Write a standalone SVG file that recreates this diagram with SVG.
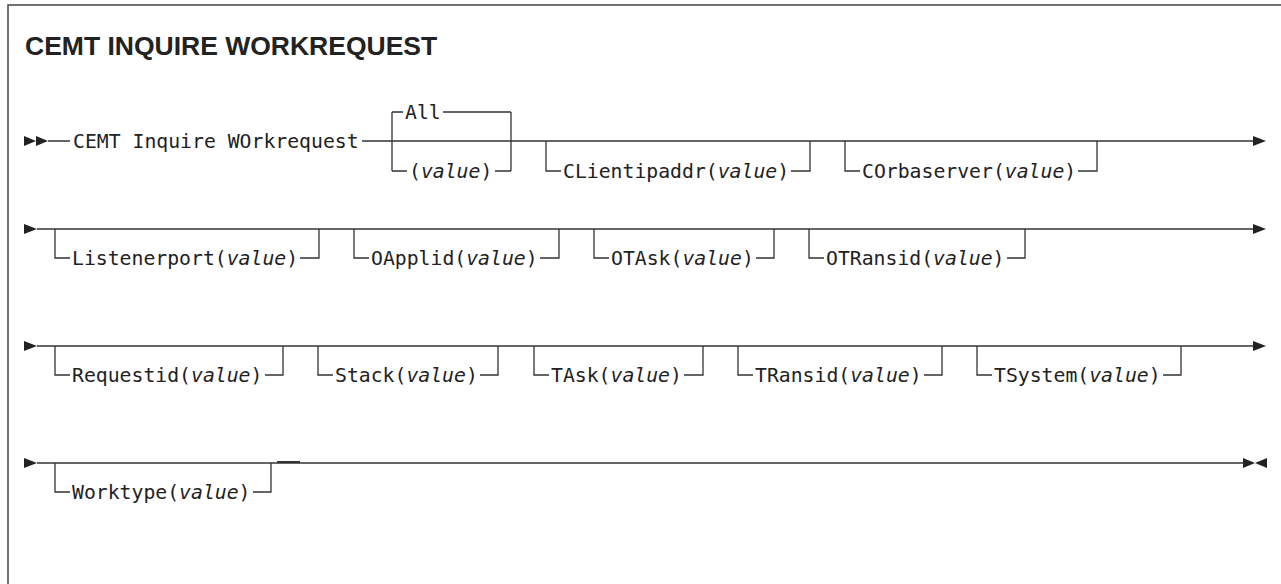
<svg xmlns="http://www.w3.org/2000/svg" width="1281" height="584" viewBox="0 0 1281 584">
<style>
.ln{stroke:#333;stroke-width:1.3;fill:none}
.fr{stroke:#444;stroke-width:1.5;fill:none}
.t{font-family:"DejaVu Sans Mono","Liberation Mono",monospace;font-size:19.77px;fill:#222}
.v{font-style:italic}
.ttl{font-family:"Liberation Sans",Arial,sans-serif;font-weight:bold;font-size:26.5px;fill:#222}
.ah{fill:#222}
</style>
<rect width="1281" height="584" fill="#fff"/>
<g id="frame"><path class="fr" d="M8,600 V5 H1290"/></g>
<text class="ttl" x="25" y="55">CEMT INQUIRE WORKREQUEST</text>
<g id="connectors">
  <path class="ah" d="M24,136 L36,141 L24,146 Z M36,136 L48,141 L36,146 Z"/>
  <path class="ln" d="M48,141 H70 M362,141 H1254"/>
  <path class="ah" d="M1253,136 L1266,141 L1253,146 Z"/>
  <path class="ah" d="M24,224 L37,229 L24,234 Z"/>
  <path class="ln" d="M37,229 H1254"/>
  <path class="ah" d="M1253,224 L1266,229 L1253,234 Z"/>
  <path class="ah" d="M24,341 L37,346 L24,351 Z"/>
  <path class="ln" d="M37,346 H1254"/>
  <path class="ah" d="M1253,341 L1266,346 L1253,351 Z"/>
  <path class="ah" d="M24,458 L37,463 L24,468 Z"/>
  <path class="ln" d="M37,463 H1244"/>
  <path d="M277,462 H300" stroke="#333" stroke-width="2"/>
  <path class="ah" d="M1243,458 L1255,463 L1243,468 Z M1267,458 L1255,463 L1267,468 Z"/>
</g>
<g id="cmd"><text class="t" x="73" y="148">CEMT Inquire WOrkrequest</text></g>
<g id="opt-all">
  <path class="ln" d="M392,112 V171 M511,112 V171 M392,112 H403 M443,112 H511 M392,171 H407 M495,171 H511"/>
  <text class="t" x="405" y="119">All</text>
  <text class="t" x="409" y="178">(<tspan class="v">value</tspan>)</text>
</g>
<g id="opt-clientipaddr">
  <path class="ln" d="M546,141 V171 H561 M791,171 H810 V141"/>
  <text class="t" x="563" y="178">CLientipaddr(<tspan class="v">value</tspan>)</text>
</g>
<g id="opt-corbaserver">
  <path class="ln" d="M845,141 V171 H860 M1078,171 H1097 V141"/>
  <text class="t" x="862" y="178">COrbaserver(<tspan class="v">value</tspan>)</text>
</g>
<g id="opt-listenerport">
  <path class="ln" d="M55,229 V258 H70 M300,258 H319 V229"/>
  <text class="t" x="72" y="265">Listenerport(<tspan class="v">value</tspan>)</text>
</g>
<g id="opt-oapplid">
  <path class="ln" d="M354,229 V258 H369 M540,258 H559 V229"/>
  <text class="t" x="371" y="265">OApplid(<tspan class="v">value</tspan>)</text>
</g>
<g id="opt-otask">
  <path class="ln" d="M594,229 V258 H609 M756,258 H774 V229"/>
  <text class="t" x="611" y="265">OTAsk(<tspan class="v">value</tspan>)</text>
</g>
<g id="opt-otransid">
  <path class="ln" d="M809,229 V258 H824 M1007,258 H1025 V229"/>
  <text class="t" x="826" y="265">OTRansid(<tspan class="v">value</tspan>)</text>
</g>
<g id="opt-requestid">
  <path class="ln" d="M55,346 V375 H70 M265,375 H283 V346"/>
  <text class="t" x="72" y="382">Requestid(<tspan class="v">value</tspan>)</text>
</g>
<g id="opt-stack">
  <path class="ln" d="M318,346 V375 H333 M480,375 H498 V346"/>
  <text class="t" x="335" y="382">Stack(<tspan class="v">value</tspan>)</text>
</g>
<g id="opt-task">
  <path class="ln" d="M534,346 V375 H549 M684,375 H703 V346"/>
  <text class="t" x="551" y="382">TAsk(<tspan class="v">value</tspan>)</text>
</g>
<g id="opt-transid">
  <path class="ln" d="M738,346 V375 H753 M924,375 H942 V346"/>
  <text class="t" x="755" y="382">TRansid(<tspan class="v">value</tspan>)</text>
</g>
<g id="opt-tsystem">
  <path class="ln" d="M977,346 V375 H992 M1163,375 H1181 V346"/>
  <text class="t" x="994" y="382">TSystem(<tspan class="v">value</tspan>)</text>
</g>
<g id="opt-worktype">
  <path class="ln" d="M55,463 V492 H70 M253,492 H271 V463"/>
  <text class="t" x="72" y="499">Worktype(<tspan class="v">value</tspan>)</text>
</g>
</svg>
